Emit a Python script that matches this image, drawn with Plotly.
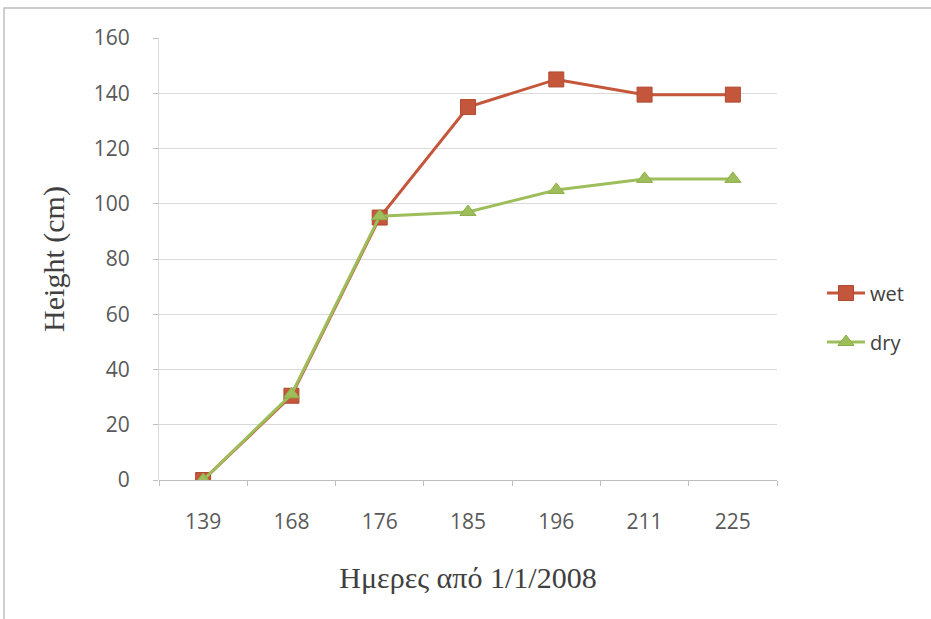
import plotly.graph_objects as go

days = ["139", "168", "176", "185", "196", "211", "225"]
wet = [0, 30.5, 95, 135, 145, 139.5, 139.5]
dry = [0, 31, 95.5, 97, 105, 109, 109]
y_ticks = [0, 20, 40, 60, 80, 100, 120, 140, 160]

L, R, T, B = 159, 154, 38, 139
W, H = 931, 619
pw, ph = W - L - R, H - T - B

tick_font = dict(family="Open Sans, Liberation Sans, sans-serif", size=21, color="#595959")
title_font = dict(family="Liberation Serif, Times New Roman, serif", size=30, color="#404040")
leg_font = dict(family="Open Sans, Liberation Sans, sans-serif", size=20, color="#404040")

fig = go.Figure()
fig.add_trace(go.Scatter(x=days, y=wet, name="wet", mode="lines+markers", legend="legend",
                         line=dict(color="#C4573B", width=3),
                         marker=dict(symbol="square", size=15, color="#C4573B",
                                     line=dict(color="#B04A30", width=1))))
fig.add_trace(go.Scatter(x=days, y=dry, name="dry", mode="lines+markers", legend="legend2",
                         line=dict(color="#9DBE5A", width=3),
                         marker=dict(symbol="triangle-up", size=14, color="#9DBE5A",
                                     line=dict(color="#8DAE4A", width=1))))

leg_x = (822 - L) / pw
fig.update_layout(
    width=W, height=H,
    margin=dict(l=L, r=R, t=T, b=B),
    paper_bgcolor="white", plot_bgcolor="white",
    showlegend=True,
    legend=dict(x=leg_x, y=(H - B - 293) / ph, xanchor="left", yanchor="middle",
                font=leg_font, bgcolor="rgba(0,0,0,0)", itemwidth=38),
    legend2=dict(x=leg_x, y=(H - B - 342) / ph, xanchor="left", yanchor="middle",
                 font=leg_font, bgcolor="rgba(0,0,0,0)", itemwidth=38),
    xaxis=dict(
        type="category", range=[-0.5, 6.5], showgrid=False, showline=False,
        ticks="outside", ticklen=5, tickcolor="#BFBFBF", tickson="boundaries",
        tickfont=tick_font, ticklabelstandoff=27,
        title=dict(text="Ημερες από 1/1/2008", standoff=32, font=title_font),
        zeroline=False,
    ),
    yaxis=dict(
        range=[0, 160], tickvals=y_ticks, showgrid=True, gridcolor="#D9D9D9", gridwidth=1,
        showline=True, linecolor="#D9D9D9", ticks="outside", ticklen=5, tickcolor="#BFBFBF",
        zeroline=True, zerolinecolor="#BFBFBF", zerolinewidth=1,
        tickfont=tick_font, ticklabelstandoff=19,
        title=dict(text="Height (cm)", standoff=20, font=title_font),
    ),
)

# outer chart frame
fig.add_shape(type="rect", xref="paper", yref="paper",
              x0=(4 - L) / pw, x1=(W + 10 - L) / pw, y0=-(B + 10) / ph, y1=(ph + T - 8) / ph,
              line=dict(color="#BFBFBF", width=1.5), fillcolor="rgba(0,0,0,0)", layer="below")

fig.write_html("out.html")
